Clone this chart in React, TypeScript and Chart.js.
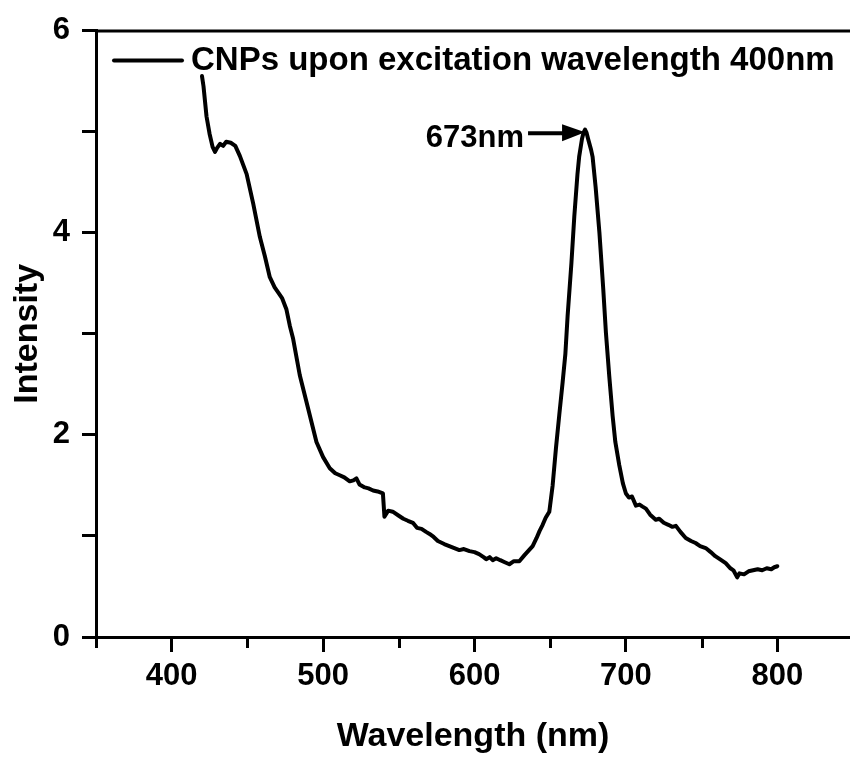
import React, { useEffect, useRef } from "react";
import { Chart, registerables } from "chart.js";

Chart.register(...registerables);

const FONT = "'Liberation Sans', Arial, Helvetica, sans-serif";

const seriesLabel = "CNPs upon excitation wavelength 400nm";
const xTitle = "Wavelength (nm)";
const yTitle = "Intensity";

const wavelengths = [
  420, 421, 423, 425, 427, 428.6, 430, 432, 434, 436, 439, 442, 445, 449.5, 453.8, 458.2, 461.5, 464.8, 468, 470.3,
  473, 475.8, 478, 480.2, 484.6, 490.1, 495.6, 500, 504.4, 508, 511, 514, 517.6, 520, 522, 524, 527.5, 530, 533, 536,
  539.5, 540.5, 543, 546, 550, 553, 556, 559.3, 562, 565, 568, 570.3, 573, 575.8, 580, 585, 590, 593, 596.7, 600,
  603, 606, 607.7, 610, 612, 614.3, 617, 620, 623, 626, 629.6, 633, 636, 638.4, 641, 643, 645, 647, 649.4, 651.6,
  653.8, 656, 658.2, 660, 661.5, 664, 665.9, 668, 669.1, 671, 672, 673, 674, 675, 677, 678, 680, 682.5, 685, 686.8,
  689, 691.2, 693, 695.6, 698, 700, 702, 704, 706.6, 709, 711, 713.2, 716, 719.7, 722, 725, 728, 730.7, 733, 736,
  739.5, 743, 746, 749, 752.7, 756, 759, 762, 765.9, 769, 771, 773.5, 775, 778, 781, 784, 787, 790, 793, 796, 798, 800,
];

const intensities = [
  5.55, 5.45, 5.15, 4.98, 4.85, 4.8, 4.84, 4.88, 4.86, 4.9, 4.89, 4.86, 4.76, 4.58, 4.29, 3.96, 3.77, 3.56, 3.46, 3.41,
  3.35, 3.24, 3.08, 2.95, 2.59, 2.26, 1.93, 1.78, 1.67, 1.62, 1.6, 1.58, 1.54, 1.55, 1.57, 1.51, 1.48, 1.47, 1.45, 1.44,
  1.42, 1.19, 1.25, 1.24, 1.2, 1.17, 1.15, 1.13, 1.08, 1.07, 1.04, 1.02, 0.99, 0.95, 0.92, 0.89, 0.86, 0.87, 0.85, 0.84,
  0.82, 0.79, 0.77, 0.79, 0.76, 0.78, 0.76, 0.74, 0.72, 0.75, 0.75, 0.81, 0.86, 0.9, 0.98, 1.05, 1.11, 1.18, 1.24, 1.5,
  1.87, 2.2, 2.52, 2.8, 3.18, 3.7, 4.16, 4.58, 4.75, 4.93, 4.99, 5.02, 4.99, 4.93, 4.82, 4.75, 4.45, 4.0, 3.45, 3.01,
  2.58, 2.19, 1.93, 1.7, 1.52, 1.42, 1.38, 1.39, 1.3, 1.31, 1.29, 1.27, 1.21, 1.16, 1.17, 1.13, 1.11, 1.09, 1.1, 1.04,
  0.98, 0.95, 0.93, 0.9, 0.88, 0.84, 0.8, 0.77, 0.73, 0.68, 0.66, 0.59, 0.63, 0.62, 0.65, 0.66, 0.67, 0.66, 0.68, 0.67, 0.69, 0.7,
];

const xMajorTicks = [400, 500, 600, 700, 800];
const xMinorTicks = [350, 450, 550, 650, 750];
const yTicks = [0, 1, 2, 3, 4, 5, 6];
const yLabeledTicks = [0, 2, 4, 6];

const peakWavelength = 673;
const peakIntensity = 5.0;
const peakLabel = "673nm";

const decorPlugin = {
  id: "decor",
  afterDraw(chart: any) {
    const { ctx, chartArea, scales } = chart;
    const xs = scales.x;
    const ys = scales.y;
    ctx.save();
    ctx.strokeStyle = "#000";
    ctx.fillStyle = "#000";
    ctx.lineCap = "butt";

    // top frame line
    ctx.lineWidth = 3;
    ctx.beginPath();
    ctx.moveTo(chartArea.left, chartArea.top + 0.5);
    ctx.lineTo(chartArea.right, chartArea.top + 0.5);
    ctx.stroke();

    // minor x ticks (shorter)
    for (const v of xMinorTicks) {
      const px = Math.round(xs.getPixelForValue(v)) + 0.5;
      ctx.beginPath();
      ctx.moveTo(px, chartArea.bottom);
      ctx.lineTo(px, chartArea.bottom + 11);
      ctx.stroke();
    }

    // legend
    const ly = chartArea.top + 30;
    ctx.lineWidth = 4;
    ctx.lineCap = "round";
    ctx.beginPath();
    ctx.moveTo(chartArea.left + 18, ly);
    ctx.lineTo(chartArea.left + 86, ly);
    ctx.stroke();
    ctx.lineCap = "butt";
    ctx.font = `bold 33px ${FONT}`;
    ctx.textAlign = "left";
    ctx.textBaseline = "middle";
    ctx.fillText(chart.data.datasets[0].label, chartArea.left + 95, ly);

    // annotation arrow
    const tx = xs.getPixelForValue(peakWavelength);
    const ty = ys.getPixelForValue(peakIntensity) + 1.5;
    ctx.lineWidth = 4;
    ctx.beginPath();
    ctx.moveTo(tx - 57, ty);
    ctx.lineTo(tx - 20, ty);
    ctx.stroke();
    ctx.beginPath();
    ctx.moveTo(tx, ty - 1);
    ctx.lineTo(tx - 23, ty - 9);
    ctx.lineTo(tx - 23, ty + 8);
    ctx.closePath();
    ctx.fill();
    ctx.font = `bold 31px ${FONT}`;
    ctx.textAlign = "right";
    ctx.textBaseline = "alphabetic";
    ctx.fillText(peakLabel, tx - 61, ty + 14);

    ctx.restore();
  },
};

export default function App() {
  const canvasRef = useRef<HTMLCanvasElement | null>(null);

  useEffect(() => {
    const canvas = canvasRef.current;
    if (!canvas) return;
    const tickFont = { family: FONT, size: 31, weight: "bold" as const };
    const titleFont = { family: FONT, size: 34, weight: "bold" as const };
    const chart = new Chart(canvas, {
      type: "line",
      data: {
        datasets: [
          {
            label: seriesLabel,
            data: wavelengths.map((w, i) => ({ x: w, y: intensities[i] })),
            borderColor: "#000",
            backgroundColor: "#000",
            borderWidth: 4,
            borderJoinStyle: "round",
            borderCapStyle: "round",
            pointRadius: 0,
            tension: 0,
            fill: false,
          },
        ],
      },
      options: {
        animation: false,
        responsive: false,
        maintainAspectRatio: false,
        layout: { padding: { top: 26, right: 0, left: 0, bottom: 0 } },
        plugins: { legend: { display: false }, tooltip: { enabled: false } },
        scales: {
          x: {
            type: "linear",
            position: "bottom",
            min: 350,
            max: 848,
            afterFit: (s: any) => {
              s.height = 120;
            },
            afterBuildTicks: (s: any) => {
              s.ticks = [...xMinorTicks, ...xMajorTicks].sort((a, b) => a - b).map((v) => ({ value: v }));
            },
            ticks: {
              autoSkip: false,
              maxRotation: 0,
              padding: 6,
              color: "#000",
              font: tickFont,
              callback: (v: any) => (xMajorTicks.includes(Number(v)) ? String(v) : ""),
            },
            grid: {
              drawOnChartArea: false,
              tickLength: 15,
              tickWidth: 3,
              tickColor: (c: any) => (c.tick && xMajorTicks.includes(c.tick.value) ? "#000" : "rgba(0,0,0,0)"),
            },
            border: { display: true, width: 3, color: "#000" },
            title: {
              display: true,
              text: xTitle,
              color: "#000",
              font: titleFont,
              padding: { top: 6, bottom: 0 },
            },
          },
          y: {
            type: "linear",
            position: "left",
            min: 0,
            max: 6,
            afterFit: (s: any) => {
              s.width = 96;
            },
            afterBuildTicks: (s: any) => {
              s.ticks = yTicks.map((v) => ({ value: v }));
            },
            ticks: {
              autoSkip: false,
              padding: 12,
              color: "#000",
              font: tickFont,
              callback: (v: any) => (yLabeledTicks.includes(Number(v)) ? String(v) : ""),
            },
            grid: {
              drawOnChartArea: false,
              tickLength: 14,
              tickWidth: 3,
              tickColor: "#000",
            },
            border: { display: true, width: 3, color: "#000" },
            title: {
              display: true,
              text: yTitle,
              color: "#000",
              font: titleFont,
              padding: { top: 7, bottom: 0 },
            },
          },
        },
      },
      plugins: [decorPlugin],
    });
    return () => chart.destroy();
  }, []);

  return (
    <div style={{ position: "absolute", left: 0, top: 0, width: 850, height: 757, background: "#fff" }}>
      <canvas ref={canvasRef} width={850} height={757} style={{ display: "block" }} />
    </div>
  );
}
